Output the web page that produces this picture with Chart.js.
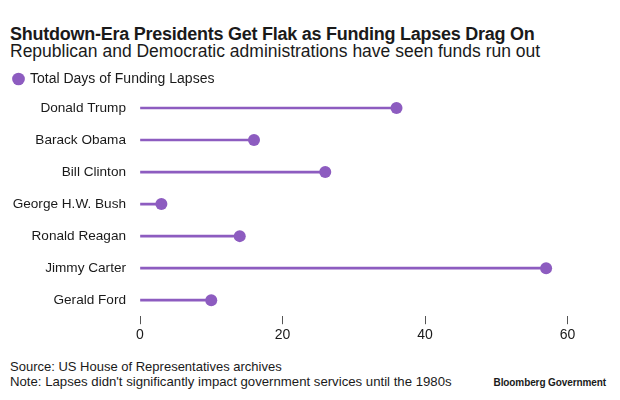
<!DOCTYPE html>
<html>
<head>
<meta charset="utf-8">
<script src="https://cdn.jsdelivr.net/npm/chart.js@4"></script>
<style>
  body { margin: 0; background: #fff; font-family: "Liberation Sans", Arial, sans-serif; color: #1a1a1a; }
  #wrap { position: relative; width: 620px; height: 400px; overflow: hidden; }
  .txt { position: absolute; left: 10px; white-space: nowrap; }
  #title { top: 24px; font-size: 18px; font-weight: bold; letter-spacing: -0.25px; }
  #subtitle { top: 41px; font-size: 17.5px; }
  #source { top: 359px; font-size: 13px; }
  #note { top: 374px; font-size: 13.2px; }
  #brand { top: 377px; left: auto; right: 14px; font-size: 10px; font-weight: bold; letter-spacing: -0.1px; }
  #chartBox { position: absolute; left: 0; top: 68px; width: 620px; height: 279px; }
</style>
</head>
<body>
<div id="wrap">
  <div id="title" class="txt">Shutdown-Era Presidents Get Flak as Funding Lapses Drag On</div>
  <div id="subtitle" class="txt">Republican and Democratic administrations have seen funds run out</div>
  <div id="chartBox"><canvas id="myChart"></canvas></div>
  <div id="source" class="txt">Source: US House of Representatives archives</div>
  <div id="note" class="txt">Note: Lapses didn't significantly impact government services until the 1980s</div>
  <div id="brand" class="txt">Bloomberg Government</div>
</div>
<script>
const presidents = ["Donald Trump", "Barack Obama", "Bill Clinton", "George H.W. Bush", "Ronald Reagan", "Jimmy Carter", "Gerald Ford"];
const lapseDays = [36, 16, 26, 3, 14, 57, 10];
const xTicks = [0, 20, 40, 60];

const purple = "rgb(141, 92, 192)";
const textColor = "#1a1a1a";

// pulls the plot a little closer to the legend
const tightLegend = {
  id: "tightLegend",
  beforeUpdate(chart) {
    const legend = chart.legend;
    if (legend && !legend._tight) {
      const fit = legend.fit;
      legend.fit = function () {
        fit.call(this);
        this.height -= 4;
      };
      legend._tight = true;
    }
  },
};

const ctx = document.getElementById("myChart");

new Chart(ctx, {
  data: {
    labels: presidents,
    datasets: [
      {
        type: "bar",
        label: "stem",
        data: lapseDays,
        backgroundColor: purple,
        barThickness: 2,
      },
      {
        type: "line",
        label: "Total Days of Funding Lapses",
        data: lapseDays,
        showLine: false,
        pointStyle: "circle",
        pointRadius: 6,
        pointBorderWidth: 0,
        pointBackgroundColor: purple,
        backgroundColor: purple,
        borderColor: purple,
      },
    ],
  },
  options: {
    indexAxis: "y",
    responsive: true,
    maintainAspectRatio: false,
    animation: false,
    layout: { padding: { left: 10, right: 24, top: 0, bottom: 0 } },
    scales: {
      x: {
        min: 0,
        max: 64,
        border: { display: false },
        grid: { drawOnChartArea: false, drawTicks: true, tickLength: 8, tickColor: "#555", tickWidth: 1 },
        ticks: { color: textColor, padding: 3, font: { family: "Liberation Sans", size: 14 } },
        afterBuildTicks: (scale) => {
          scale.ticks = xTicks.map((v) => ({ value: v }));
        },
      },
      y: {
        border: { display: false },
        grid: { display: false, drawTicks: false },
        ticks: { color: textColor, padding: 14, font: { family: "Liberation Sans", size: 13.6 } },
        afterFit: (scale) => {
          scale.width = 130;
        },
      },
    },
    plugins: {
      tooltip: { enabled: false },
      legend: {
        position: "top",
        align: "start",
        labels: {
          filter: (item) => item.text !== "stem",
          usePointStyle: true,
          boxWidth: 9,
          boxHeight: 9,
          padding: 4,
          color: textColor,
          font: { family: "Liberation Sans", size: 14 },
        },
      },
    },
  },
  plugins: [tightLegend],
});
</script>
</body>
</html>
